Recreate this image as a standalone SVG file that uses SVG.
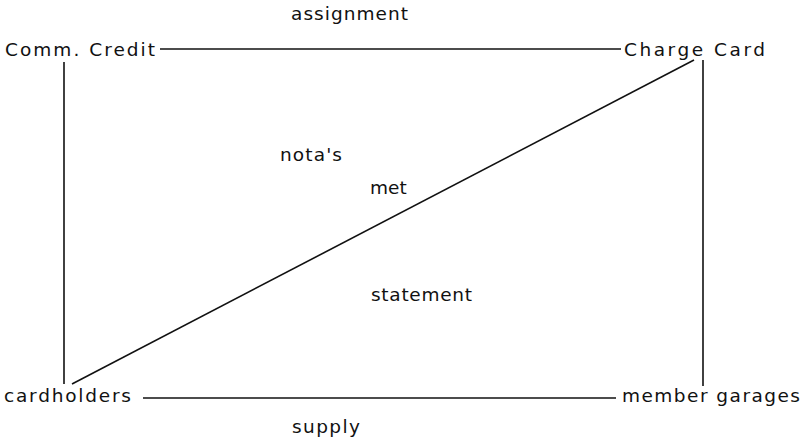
<svg xmlns="http://www.w3.org/2000/svg" width="806" height="443" viewBox="0 0 806 443">
<style>
text{font-family:"DejaVu Sans","Liberation Sans",sans-serif;font-size:18.5px;fill:#111}
.c line{stroke:#111;stroke-width:1.6;fill:none}
</style>
<rect width="806" height="443" fill="#fff"/>
<g class="c" id="connectors">
<line x1="160" y1="49" x2="621" y2="49"/>
<line x1="143" y1="398" x2="616" y2="398"/>
<line x1="64" y1="62" x2="64" y2="384" stroke-width="2.2"/>
<line x1="703" y1="60" x2="703" y2="386" stroke-width="2.2"/>
<line x1="72" y1="384" x2="694" y2="60"/>
</g>
<g id="comm-credit"><text x="5" y="56" textLength="150">Comm. Credit</text></g>
<g id="charge-card"><text x="624" y="56" textLength="141">Charge Card</text></g>
<g id="cardholders"><text x="4" y="402" textLength="127">cardholders</text></g>
<g id="member-garages"><text x="622" y="402" textLength="178">member garages</text></g>
<g id="labels">
<text x="291" y="20" textLength="117">assignment</text>
<text x="292" y="433" textLength="68">supply</text>
<text x="280" y="161" textLength="62">nota's</text>
<text x="370" y="194">met</text>
<text x="371" y="301" textLength="101">statement</text>
</g>
</svg>
